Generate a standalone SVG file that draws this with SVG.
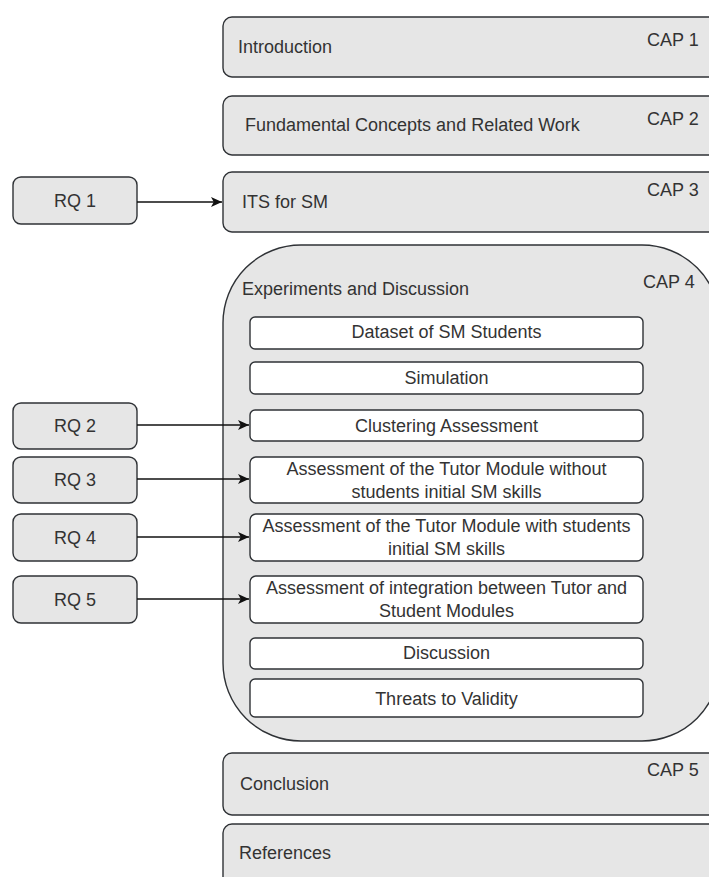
<svg xmlns="http://www.w3.org/2000/svg" width="709" height="877" viewBox="0 0 709 877">
  <defs>
    <marker id="arrow" viewBox="0 0 10 10" refX="10" refY="5" markerWidth="11" markerHeight="11" markerUnits="userSpaceOnUse" orient="auto">
      <path d="M0,0.5 L10,5 L0,9.5 L2.5,5 Z" fill="#111"/>
    </marker>
  </defs>
  <style>
    .chap { fill: #e6e6e6; stroke: #2f3236; stroke-width: 1.4; }
    .rq { fill: #e6e6e6; stroke: #2f3236; stroke-width: 1.4; }
    .sec { fill: #ffffff; stroke: #2f3236; stroke-width: 1.4; }
    text { font-family: "Liberation Sans", Arial, sans-serif; font-size: 18px; fill: #333333; }
    .mid { text-anchor: middle; }
    .conn { fill: none; stroke: #111; stroke-width: 1.4; marker-end: url(#arrow); }
  </style>
  <rect width="709" height="877" fill="#ffffff"/>

  <!-- chapters -->
  <g id="cap1">
    <rect class="chap" x="223" y="17" width="510" height="60" rx="9"/>
    <text x="238" y="53">Introduction</text>
    <text x="647" y="46">CAP 1</text>
  </g>
  <g id="cap2">
    <rect class="chap" x="223" y="96" width="510" height="59" rx="9"/>
    <text x="245" y="131">Fundamental Concepts and Related Work</text>
    <text x="647" y="125">CAP 2</text>
  </g>
  <g id="cap3">
    <rect class="chap" x="223" y="172" width="510" height="60" rx="9"/>
    <text x="242" y="208">ITS for SM</text>
    <text x="647" y="196">CAP 3</text>
  </g>
  <g id="cap4">
    <rect class="chap" x="223" y="245" width="497" height="496" rx="78"/>
    <text x="242" y="295">Experiments and Discussion</text>
    <text x="643" y="288">CAP 4</text>
  </g>
  <g id="cap5">
    <rect class="chap" x="223" y="753" width="510" height="62" rx="9"/>
    <text x="240" y="790">Conclusion</text>
    <text x="647" y="776">CAP 5</text>
  </g>
  <g id="references">
    <rect class="chap" x="223" y="824" width="510" height="70" rx="9"/>
    <text x="239" y="859">References</text>
  </g>

  <!-- sections of chapter 4 -->
  <g id="dataset">
    <rect class="sec" x="250" y="317" width="393" height="32" rx="5"/>
    <text class="mid" x="446.5" y="338">Dataset of SM Students</text>
  </g>
  <g id="simulation">
    <rect class="sec" x="250" y="362" width="393" height="32" rx="5"/>
    <text class="mid" x="446.5" y="384">Simulation</text>
  </g>
  <g id="clustering">
    <rect class="sec" x="250" y="410" width="393" height="31" rx="5"/>
    <text class="mid" x="446.5" y="432">Clustering Assessment</text>
  </g>
  <g id="tutor-without">
    <rect class="sec" x="250" y="457" width="393" height="46" rx="6"/>
    <text class="mid" x="446.5" y="475">Assessment of the Tutor Module without</text>
    <text class="mid" x="446.5" y="498">students initial SM skills</text>
  </g>
  <g id="tutor-with">
    <rect class="sec" x="250" y="514" width="393" height="47" rx="6"/>
    <text class="mid" x="446.5" y="532">Assessment of the Tutor Module with students</text>
    <text class="mid" x="446.5" y="555">initial SM skills</text>
  </g>
  <g id="integration">
    <rect class="sec" x="250" y="576" width="393" height="47" rx="6"/>
    <text class="mid" x="446.5" y="594">Assessment of integration between Tutor and</text>
    <text class="mid" x="446.5" y="617">Student Modules</text>
  </g>
  <g id="discussion">
    <rect class="sec" x="250" y="638" width="393" height="31" rx="5"/>
    <text class="mid" x="446.5" y="659">Discussion</text>
  </g>
  <g id="threats">
    <rect class="sec" x="250" y="679" width="393" height="38" rx="5"/>
    <text class="mid" x="446.5" y="705">Threats to Validity</text>
  </g>

  <!-- research questions -->
  <g id="rq1">
    <rect class="rq" x="13" y="177" width="124" height="47" rx="8"/>
    <text class="mid" x="75" y="207">RQ 1</text>
  </g>
  <g id="rq2">
    <rect class="rq" x="13" y="403" width="124" height="46" rx="8"/>
    <text class="mid" x="75" y="432">RQ 2</text>
  </g>
  <g id="rq3">
    <rect class="rq" x="13" y="457" width="124" height="46" rx="8"/>
    <text class="mid" x="75" y="486">RQ 3</text>
  </g>
  <g id="rq4">
    <rect class="rq" x="13" y="514" width="124" height="47" rx="8"/>
    <text class="mid" x="75" y="544">RQ 4</text>
  </g>
  <g id="rq5">
    <rect class="rq" x="13" y="576" width="124" height="47" rx="8"/>
    <text class="mid" x="75" y="606">RQ 5</text>
  </g>

  <!-- connectors -->
  <g id="connectors">
    <path class="conn" d="M137,202 L222,202"/>
    <path class="conn" d="M137,425 L249,425"/>
    <path class="conn" d="M137,479 L249,479"/>
    <path class="conn" d="M137,537 L249,537"/>
    <path class="conn" d="M137,599 L249,599"/>
  </g>
</svg>
